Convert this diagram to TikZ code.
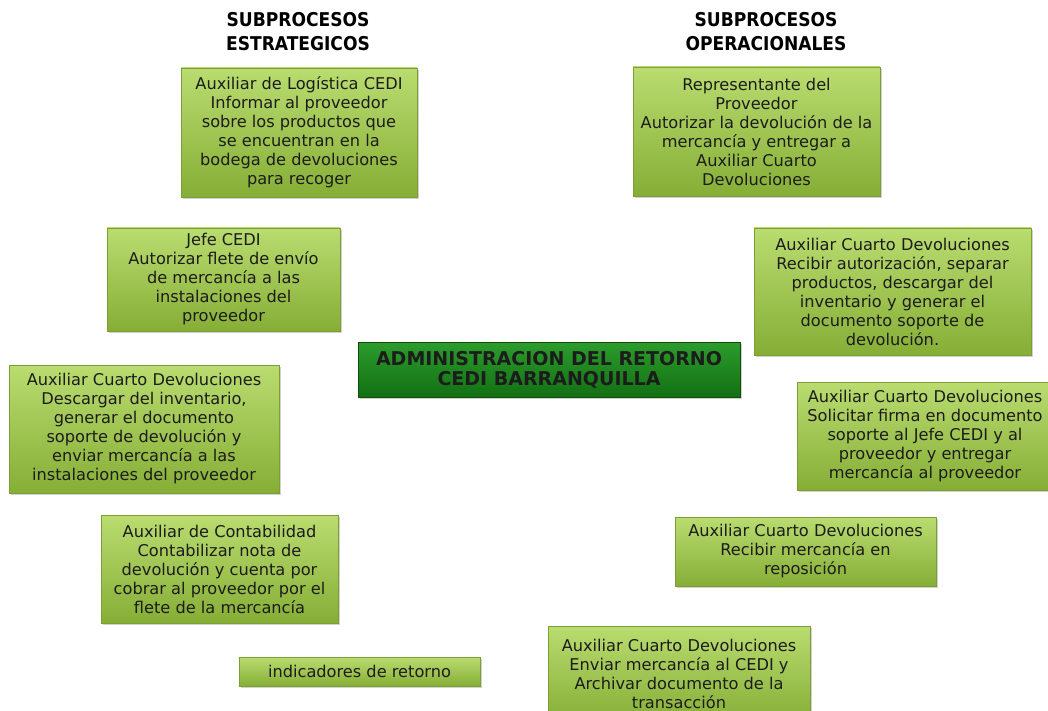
\documentclass[tikz,border=0pt]{standalone}
\usepackage{fontspec}
\setmainfont{DejaVu Sans}
\newfontfamily\headfont{DejaVu Sans Condensed}
\usetikzlibrary{shadows}
\definecolor{limetop}{HTML}{BADC70}
\definecolor{limebot}{HTML}{86AE36}
\definecolor{limeedge}{HTML}{7C9F33}
\definecolor{darktop}{HTML}{2C9C2C}
\definecolor{darkbot}{HTML}{137013}
\definecolor{darkedge}{HTML}{0B4F0B}
\definecolor{inktext}{HTML}{1C1C1C}
\tikzset{
  x=1pt, y=-1pt,
  gbox/.style={draw=limeedge, line width=0.8pt, top color=limetop, bottom color=limebot,
    align=center, inner sep=0pt, text=inktext, font=\fontsize{16.2}{19}\selectfont,
    drop shadow={opacity=0.35, shadow xshift=1.5pt, shadow yshift=-2pt}},
  cbox/.style={draw=darkedge, line width=0.8pt, top color=darktop, bottom color=darkbot,
    align=center, inner sep=0pt, text=inktext, font=\bfseries\fontsize{19}{20}\selectfont,
    drop shadow={opacity=0.35, shadow xshift=1.5pt, shadow yshift=-2pt}},
  head/.style={align=center, font=\headfont\bfseries\fontsize{19}{24}\selectfont}
}
\begin{document}
\begin{tikzpicture}
\useasboundingbox[fill=white] (0,0) rectangle (1048,711);

% column headings
\node[head] (hl) at (298,32) {SUBPROCESOS\\ESTRATEGICOS};
\node[head] (hr) at (766,32) {SUBPROCESOS\\OPERACIONALES};

% strategic sub-processes
\node[gbox, minimum width=236, minimum height=129] (s1) at (299,132.5)
  {Auxiliar de Logística CEDI\\Informar al proveedor\\sobre los productos que\\se encuentran en la\\bodega de devoluciones\\para recoger};
\node[gbox, minimum width=233, minimum height=103] (s2) at (223.5,279.5)
  {Jefe CEDI\\Autorizar flete de envío\\de mercancía a las\\instalaciones del\\proveedor};
\node[gbox, minimum width=270, minimum height=128] (s3) at (144,429)
  {Auxiliar Cuarto Devoluciones\\Descargar del inventario,\\generar el documento\\soporte de devolución y\\enviar mercancía a las\\instalaciones del proveedor};
\node[gbox, minimum width=237, minimum height=108] (s4) at (219.5,569)
  {Auxiliar de Contabilidad\\Contabilizar nota de\\devolución y cuenta por\\cobrar al proveedor por el\\flete de la mercancía};
\node[gbox, minimum width=241, minimum height=29] (s5) at (359.5,671.5)
  {indicadores de retorno};

% central process
\node[cbox, minimum width=382, minimum height=55] (c) at (549,369.5)
  {ADMINISTRACION DEL RETORNO\\CEDI BARRANQUILLA};

% operational sub-processes
\node[gbox, minimum width=247, minimum height=129] (o1) at (756.5,131.5)
  {Representante del\\Proveedor\\Autorizar la devolución de la\\mercancía y entregar a\\Auxiliar Cuarto\\Devoluciones};
\node[gbox, minimum width=277, minimum height=127] (o2) at (892.5,291.5)
  {Auxiliar Cuarto Devoluciones\\Recibir autorización, separar\\productos, descargar del\\inventario y generar el\\documento soporte de\\devolución.};
\node[gbox, minimum width=256, minimum height=108] (o3) at (925,436)
  {Auxiliar Cuarto Devoluciones\\Solicitar firma en documento\\soporte al Jefe CEDI y al\\proveedor y entregar\\mercancía al proveedor};
\node[gbox, minimum width=261, minimum height=69] (o4) at (805.5,551.5)
  {Auxiliar Cuarto Devoluciones\\Recibir mercancía en\\reposición};
\node[gbox, minimum width=262, minimum height=96] (o5) at (679,674)
  {Auxiliar Cuarto Devoluciones\\Enviar mercancía al CEDI y\\Archivar documento de la\\transacción};
\end{tikzpicture}
\end{document}
